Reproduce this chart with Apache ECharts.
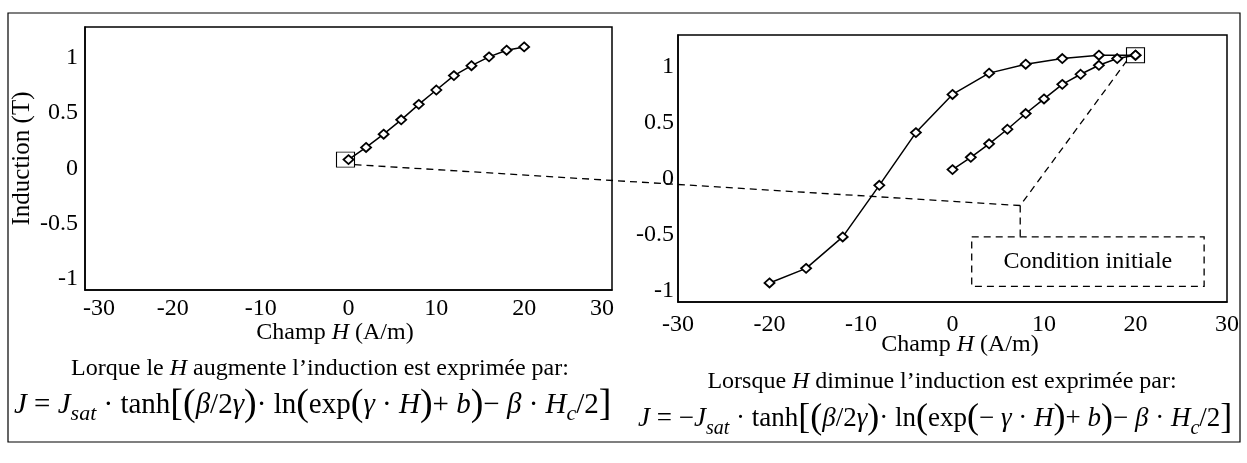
<!DOCTYPE html>
<html>
<head>
<meta charset="utf-8">
<script src="https://cdn.jsdelivr.net/npm/echarts@6/dist/echarts.min.js"></script>
<style>
html,body{margin:0;padding:0;background:#fff;}
#c{width:1247px;height:463px;}
</style>
</head>
<body>
<div id="c"></div>
<script>
// ---- data ----
const H_rise = [0, 2, 4, 6, 8, 10, 12, 14, 16, 18, 20];
const J_rise = [0.08, 0.19, 0.31, 0.44, 0.58, 0.71, 0.84, 0.93, 1.01, 1.07, 1.10];
const H_fall = [20, 16, 12, 8, 4, 0, -4, -8, -12, -16, -20];
const J_fall = [1.10, 1.10, 1.07, 1.02, 0.94, 0.75, 0.41, -0.06, -0.52, -0.80, -0.93];
const yTickValues = [-1, -0.5, 0, 0.5, 1];
const initialPoint = [0, 0.08];
const saturationPoint = [20, 1.10];

const FONT = 'Liberation Serif';
const TICK = 24;
const pairs = (xs, ys) => xs.map((x, i) => [x, ys[i]]);

const chart = echarts.init(document.getElementById('c'), null, {renderer: 'canvas'});

function xAxisCfg(gi, margin, shiftEdges) {
  return {
    type: 'value', gridIndex: gi, min: -30, max: 30, interval: 10,
    axisLine: {show: true, onZero: false, lineStyle: {color: '#000', width: 1.5}},
    axisTick: {show: false}, splitLine: {show: false},
    axisLabel: {
      margin: margin, color: '#000', fontFamily: FONT, fontSize: TICK,
      formatter: function (v) {
        if (shiftEdges && v === -30) return '{a|' + v + '}';
        if (shiftEdges && v === 30) return '{b|' + v + '}';
        return String(v);
      },
      rich: {
        a: {fontFamily: FONT, fontSize: TICK, color: '#000', padding: [0, 0, 0, 28]},
        b: {fontFamily: FONT, fontSize: TICK, color: '#000', padding: [0, 20, 0, 0]}
      }
    }
  };
}
function yAxisCfg(gi, margin, name) {
  return {
    type: 'value', gridIndex: gi, min: -1.1, max: 1.28,
    axisLine: {show: true, onZero: false, lineStyle: {color: '#000', width: 1.5}},
    axisTick: {show: false}, splitLine: {show: false},
    axisLabel: {margin: margin, color: '#000', fontFamily: FONT, fontSize: TICK,
      customValues: yTickValues, formatter: v => String(v)},
    name: name || '', nameLocation: 'middle', nameRotate: 90, nameGap: 50,
    nameTextStyle: {color: '#000', fontFamily: FONT, fontSize: 25}
  };
}
const lineSeries = (gi, data) => ({
  type: 'line', xAxisIndex: gi, yAxisIndex: gi, data: data,
  symbol: 'diamond', symbolSize: [10, 9], showSymbol: true,
  lineStyle: {color: '#000', width: 1.5},
  itemStyle: {color: '#fff', borderColor: '#000', borderWidth: 1.8},
  animation: false, silent: true
});
const squareMark = (pt, off) => ({
  symbol: 'rect', symbolSize: [18, 15], symbolOffset: off,
  label: {show: false},
  itemStyle: {color: 'rgba(0,0,0,0)', borderColor: '#000', borderWidth: 1},
  data: [{coord: pt}]
});

const s1 = lineSeries(0, pairs(H_rise, J_rise));
s1.markPoint = squareMark(initialPoint, [-3, 0]);
const s2 = lineSeries(1, pairs(H_rise, J_rise));
const s3 = lineSeries(1, pairs(H_fall, J_fall));
s3.markPoint = squareMark(saturationPoint, [0, 0]);

chart.setOption({
  backgroundColor: '#fff',
  animation: false,
  grid: [
    {left: 85, right: 635, top: 27, bottom: 173, show: true, borderColor: '#000', borderWidth: 1.5},
    {left: 678, right: 20, top: 35, bottom: 161, show: true, borderColor: '#000', borderWidth: 1.5}
  ],
  xAxis: [xAxisCfg(0, 7, true), xAxisCfg(1, 11, false)],
  yAxis: [yAxisCfg(0, 7, 'Induction (T)'), yAxisCfg(1, 4, '')],
  series: [s1, s2, s3]
});

// ---- annotations anchored to data coordinates ----
const p0 = chart.convertToPixel({gridIndex: 0}, initialPoint);
const pCorner = chart.convertToPixel({gridIndex: 1}, [7.4, -0.24]);
const pSat = chart.convertToPixel({gridIndex: 1}, saturationPoint);
const boxTL = chart.convertToPixel({gridIndex: 1}, [2.1, -0.52]);
const boxBR = chart.convertToPixel({gridIndex: 1}, [27.5, -0.96]);

const dash = {stroke: '#000', lineWidth: 1.3, lineDash: [7, 5], fill: null};
const richT = {
  i: {fontFamily: FONT, fontSize: 24, fontStyle: 'italic', lineHeight: 30}
};
const richFormula = (fs) => ({
  i: {fontFamily: FONT, fontSize: fs, fontStyle: 'italic', lineHeight: 40},
  s: {fontFamily: FONT, fontSize: Math.round(fs * 0.75), fontStyle: 'italic', lineHeight: 18, verticalAlign: 'bottom'},
  b: {fontFamily: FONT, fontSize: Math.round(fs * 1.32), lineHeight: 40}
});
const textEl = (x, y, text, size, align, rich, lh) => ({
  type: 'text', x: x, y: y, silent: true,
  style: {text: text, fontFamily: FONT, fontSize: size, fill: '#000',
    align: align || 'center', verticalAlign: 'middle', lineHeight: lh || 30, rich: rich || richT}
});
const S = '\u00a0';
const formulaUp = '{i|J}' + S + '=' + S + '{i|J}{s|sat}' + S + '·' + S + 'tanh{b|[(}{i|β}/2{i|γ}{b|)}·' + S + 'ln{b|(}exp{b|(}{i|γ}' + S + '·' + S + '{i|H}{b|)}+' + S + '{i|b}{b|)}−' + S + '{i|β}' + S + '·' + S + '{i|H}{s|c}/2{b|]}';
const formulaDown = '{i|J}' + S + '=' + S + '−{i|J}{s|sat}' + S + '·' + S + 'tanh{b|[(}{i|β}/2{i|γ}{b|)}·' + S + 'ln{b|(}exp{b|(}−' + S + '{i|γ}' + S + '·' + S + '{i|H}{b|)}+' + S + '{i|b}{b|)}−' + S + '{i|β}' + S + '·' + S + '{i|H}{s|c}/2{b|]}';

chart.setOption({
  graphic: [
    {type: 'rect', shape: {x: 8, y: 13, width: 1232, height: 429}, style: {fill: null, stroke: '#000', lineWidth: 1.2}, silent: true},
    {type: 'polyline', shape: {points: [[p0[0] + 6, p0[1] + 5], pCorner, [pSat[0] - 9, pSat[1] + 6]]}, style: dash, silent: true},
    {type: 'polyline', shape: {points: [pCorner, [pCorner[0], boxTL[1]]]}, style: dash, silent: true},
    {type: 'rect', shape: {x: boxTL[0], y: boxTL[1], width: boxBR[0] - boxTL[0], height: boxBR[1] - boxTL[1]}, style: dash, silent: true},
    textEl((boxTL[0] + boxBR[0]) / 2, (boxTL[1] + boxBR[1]) / 2, 'Condition initiale', 24),
    textEl(335, 333, 'Champ {i|H} (A/m)', 24),
    textEl(960, 345, 'Champ {i|H} (A/m)', 24),
    textEl(320, 369, 'Lorque le {i|H} augmente l\u2019induction est exprimée par:', 24),
    textEl(942, 382, 'Lorsque {i|H} diminue l\u2019induction est exprimée par:', 24),
    textEl(14, 405, formulaUp, 29, 'left', richFormula(29), 40),
    textEl(638, 419, formulaDown, 27, 'left', richFormula(27), 40)
  ]
});
</script>
</body>
</html>
